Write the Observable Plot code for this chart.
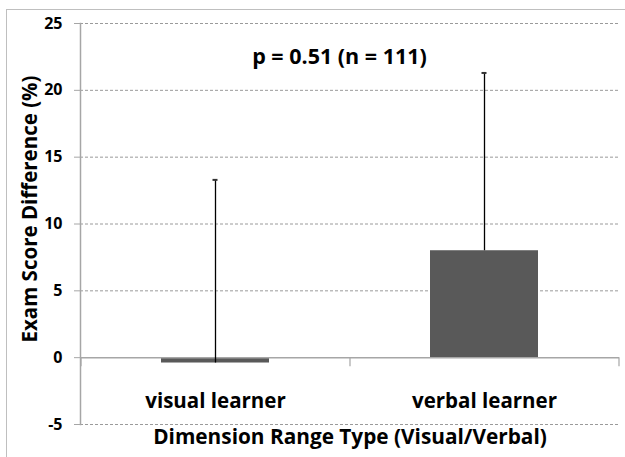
<!DOCTYPE html>
<html>
<head>
<meta charset="utf-8">
<script src="https://cdn.jsdelivr.net/npm/d3@7"></script>
<script src="https://cdn.jsdelivr.net/npm/@observablehq/plot@0.6"></script>
<style>
  html, body { margin: 0; padding: 0; background: #fff; }
  #wrap { position: relative; width: 625px; height: 457px; overflow: hidden; }
  #border { position: absolute; left: 6px; top: 9px; right: -10px; bottom: -10px;
            border-top: 1.5px solid #bfbfbf; border-left: 1.5px solid #bfbfbf; pointer-events: none; }
  svg { display: block; }
</style>
</head>
<body>
<div id="wrap"><div id="chart"></div><div id="border"></div></div>
<script>
const categories = ["visual learner", "verbal learner"];
const meanValues = [-0.4, 8.0];
const upperErrors = [13.3, 21.3];
const yTicks = [-5, 0, 5, 10, 15, 20, 25];
const gridValues = [-5, 5, 10, 15, 20, 25];
const annotation = "p = 0.51 (n = 111)";
const yTitle = "Exam Score Difference (%)";
const xTitle = "Dimension Range Type (Visual/Verbal)";

const data = categories.map((c, i) => ({cat: c, value: meanValues[i], upper: upperErrors[i]}));

const FONT = "'Open Sans', Lato, sans-serif";
const W = 625, H = 457;
const margins = {marginLeft: 80, marginRight: 6, marginTop: 23, marginBottom: 33};
const xOpts = {type: "band", domain: categories, paddingInner: 0.6, paddingOuter: 0.3, axis: null};
const yOpts = {domain: [-5, 25], axis: null};

// first pass to read the band step
const probe = Plot.plot({width: W, height: H, ...margins, x: xOpts, y: yOpts, marks: [Plot.barY(data, {x: "cat", y: "value"})]});
const step = probe.scale("x").step;
const bw = probe.scale("x").bandwidth;

const chart = Plot.plot({
  width: W, height: H, ...margins,
  style: {background: "transparent", fontFamily: FONT},
  x: xOpts,
  y: yOpts,
  marks: [
    Plot.ruleY(gridValues, {stroke: "#9a9a9a", strokeWidth: 1, strokeDasharray: "3,2"}),
    Plot.barY(data, {x: "cat", y: "value", fill: "#595959"}),
    Plot.ruleY([0], {stroke: "#a6a6a6", strokeWidth: 1.5}),
    // category separators on the category axis
    Plot.ruleX(categories, {x: d => d, y1: 0, y2: 0, dx: -step / 2, insetBottom: -9, stroke: "#a6a6a6", strokeWidth: 1.2}),
    Plot.ruleX(categories.slice(-1), {x: d => d, y1: 0, y2: 0, dx: step / 2, insetBottom: -9, stroke: "#a6a6a6", strokeWidth: 1.2}),
    // error bars (upper only)
    Plot.ruleX(data, {x: "cat", y1: "value", y2: "upper", stroke: "#000", strokeWidth: 1.3}),
    Plot.tickY(data, {x: "cat", y: "upper", stroke: "#333", strokeWidth: 2, insetLeft: bw / 2 - 2.5, insetRight: bw / 2 - 2.5}),
    // y axis
    Plot.frame({anchor: "left", stroke: "#a6a6a6", strokeWidth: 1.5}),
    Plot.axisY(yTicks, {tickSize: 6, tickPadding: 12, tickFormat: d => String(d), stroke: "#a6a6a6", fill: "#000", fontSize: 16, fontWeight: "bold", label: null, fontFamily: FONT}),
    // category labels
    Plot.text(categories, {x: d => d, y: -3.25, fontSize: 20.5, fontWeight: "bold", fill: "#000", fontFamily: FONT}),
    // titles
    Plot.text([annotation], {frameAnchor: "top", textAnchor: "middle", dx: -10.5, dy: 25, fontSize: 21.5, fontWeight: "bold", fill: "#000", fontFamily: FONT}),
    Plot.text([yTitle], {frameAnchor: "left", textAnchor: "middle", rotate: -90, dx: -50, dy: -15, fontSize: 20.5, fontWeight: "bold", fill: "#000", fontFamily: FONT}),
    Plot.text([xTitle], {frameAnchor: "bottom", textAnchor: "middle", dy: 19.4, fontSize: 20.8, fontWeight: "bold", fill: "#000", fontFamily: FONT})
  ]
});
document.getElementById("chart").appendChild(chart);
</script>
</body>
</html>
